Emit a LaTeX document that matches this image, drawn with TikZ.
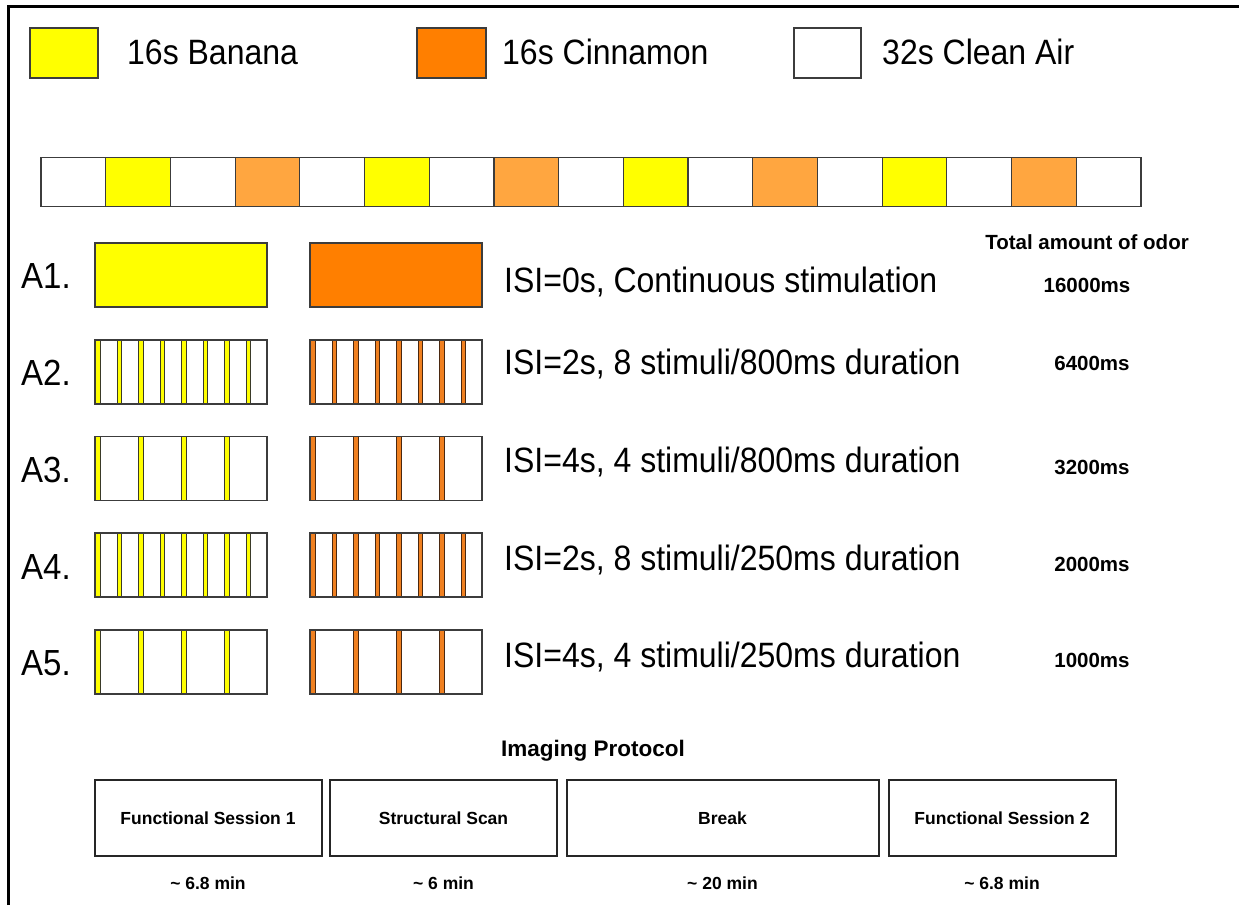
\documentclass[tikz,border=0pt]{standalone}
\usepackage{graphicx}
\usepackage{fontspec}
\setmainfont{Liberation Sans}
\definecolor{ban}{HTML}{FFFF00}
\definecolor{cin}{HTML}{FF7F00}
\definecolor{cinl}{HTML}{FFA640}
\definecolor{cins}{HTML}{F08020}
\definecolor{edge}{HTML}{3C3C3C}
\definecolor{sedgeY}{HTML}{3A3A28}
\definecolor{sedgeO}{HTML}{4A2810}
\newcommand{\tallt}[1]{\scalebox{1}[1.1]{#1}}
\begin{document}
\begin{tikzpicture}[x=1pt,y=-1pt,
  box/.style={draw=edge, line width=1.5pt},
  cell/.style={draw=edge, line width=1.2pt},
  stripeY/.style={fill=ban, draw=sedgeY, line width=1pt},
  stripeO/.style={fill=cins, draw=sedgeO, line width=1pt},
  big/.style={font=\fontsize{32}{38}\selectfont, inner sep=0pt},
  lab/.style={font=\fontsize{33}{38}\selectfont, inner sep=0pt, anchor=base west},
  amt/.style={font=\bfseries\fontsize{20.5}{24}\selectfont, inner sep=0pt, anchor=base},
  sess/.style={draw=black!85, line width=2pt, minimum height=76pt, inner sep=0pt,
               font=\bfseries\fontsize{17.5}{21}\selectfont},
  dur/.style={font=\bfseries\fontsize{17.5}{21}\selectfont, inner sep=0pt, anchor=base}]
\useasboundingbox (0,0) rectangle (1239,905);
\fill[white] (0,0) rectangle (1239,905);
% frame
\draw[line width=2.5pt] (8.5,905) -- (8.5,6.5) -- (1239,6.5);

% legend
\draw[box, fill=ban] (30,28) rectangle (98,78);
\node[big, anchor=base west] (lban) at (127,64.5) {\tallt{16s Banana}};
\draw[box, fill=cin] (417,28) rectangle (486,78);
\node[big, anchor=base west] (lcin) at (502,64.5) {\tallt{16s Cinnamon}};
\draw[box, fill=white] (794,28) rectangle (861,78);
\node[big, anchor=base west] (lair) at (882,64.5) {\tallt{32s Clean Air}};

% timeline
\foreach \i in {0,...,16} {
  \pgfmathtruncatemacro{\m}{mod(\i,4)}
  \ifnum\m=1 \def\fc{ban}\else\ifnum\m=3 \def\fc{cinl}\else\def\fc{white}\fi\fi
  \draw[cell, fill=\fc] ({41+64.7*\i},157.5) rectangle ++(64.7,49);
}

% row labels
\node[lab] (a1) at (21,288) {\tallt{A1.}};
\node[lab] (a2) at (21,385) {\tallt{A2.}};
\node[lab] (a3) at (21,482) {\tallt{A3.}};
\node[lab] (a4) at (21,579) {\tallt{A4.}};
\node[lab] (a5) at (21,675) {\tallt{A5.}};

% A1 boxes
\draw[box, fill=ban] (95,243) rectangle ++(172,64);
\draw[box, fill=cin] (310,243) rectangle ++(172,64);

% 8-stimuli rows
\foreach \t in {340,533} {
  \fill[white] (95,\t) rectangle ++(172,64);
  \fill[white] (310,\t) rectangle ++(172,64);
  \foreach \k in {0,...,7} {
    \draw[stripeY] ({95.8+21.5*\k},\t) rectangle ++(4.4,64);
    \draw[stripeO] ({310.8+21.5*\k},\t) rectangle ++(4.4,64);
  }
  \draw[box] (95,\t) rectangle ++(172,64);
  \draw[box] (310,\t) rectangle ++(172,64);
}
% 4-stimuli rows
\foreach \t in {436.5,630} {
  \fill[white] (95,\t) rectangle ++(172,64);
  \fill[white] (310,\t) rectangle ++(172,64);
  \foreach \k in {0,...,3} {
    \draw[stripeY] ({95.8+43*\k},\t) rectangle ++(4.4,64);
    \draw[stripeO] ({310.8+43*\k},\t) rectangle ++(4.4,64);
  }
  \draw[box] (95,\t) rectangle ++(172,64);
  \draw[box] (310,\t) rectangle ++(172,64);
}

% descriptions
\node[big, anchor=base west] (d1) at (504,292) {\tallt{ISI=0s, Continuous stimulation}};
\node[big, anchor=base west] (d2) at (504,374) {\tallt{ISI=2s, 8 stimuli/800ms duration}};
\node[big, anchor=base west] (d3) at (504,472.5) {\tallt{ISI=4s, 4 stimuli/800ms duration}};
\node[big, anchor=base west] (d4) at (504,570) {\tallt{ISI=2s, 8 stimuli/250ms duration}};
\node[big, anchor=base west] (d5) at (504,667) {\tallt{ISI=4s, 4 stimuli/250ms duration}};

% total amounts
\node[amt] (tot) at (1087,249.5) {Total amount of odor};
\node[amt] (m1) at (1087,292) {16000ms};
\node[amt] (m2) at (1092,370) {6400ms};
\node[amt] (m3) at (1092,474) {3200ms};
\node[amt] (m4) at (1092,571) {2000ms};
\node[amt] (m5) at (1092,667) {1000ms};

% imaging protocol
\node[amt, font=\bfseries\fontsize{22.5}{26}\selectfont] (ip) at (593,756) {Imaging Protocol};
\node[sess, minimum width=227pt] (fs1) at (208,818) {Functional Session 1};
\node[sess, minimum width=227pt] (ss) at (443.5,818) {Structural Scan};
\node[sess, minimum width=312pt] (brk) at (722.5,818) {Break};
\node[sess, minimum width=227pt] (fs2) at (1002,818) {Functional Session 2};
\node[dur] (t1) at (208,889) {\textasciitilde{} 6.8 min};
\node[dur] (t2) at (443.5,889) {\textasciitilde{} 6 min};
\node[dur] (t3) at (722.5,889) {\textasciitilde{} 20 min};
\node[dur] (t4) at (1002,889) {\textasciitilde{} 6.8 min};
\end{tikzpicture}
\end{document}
